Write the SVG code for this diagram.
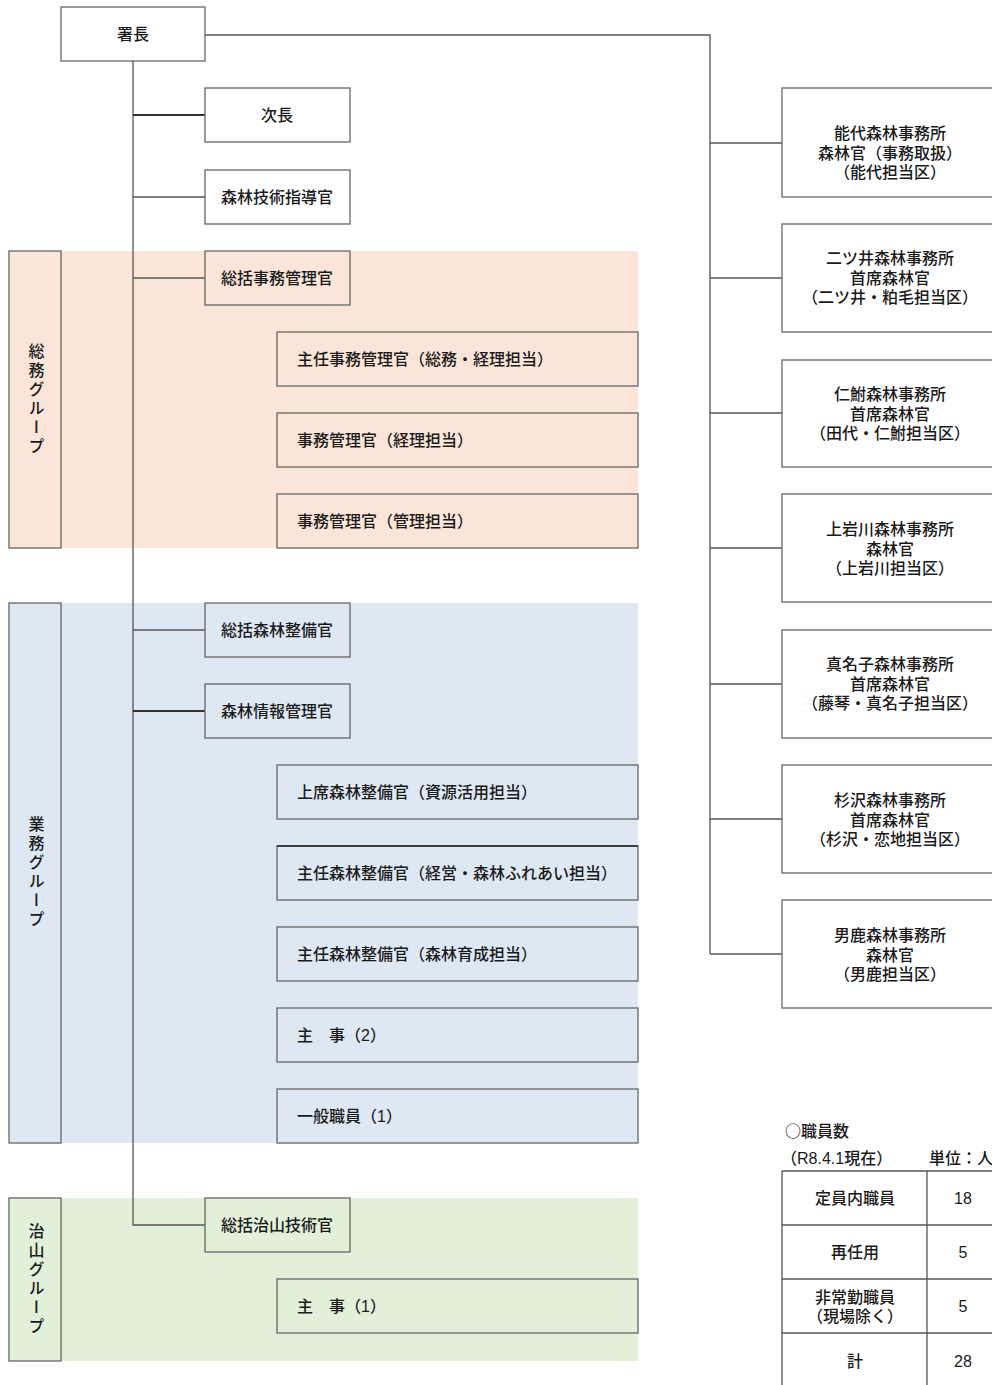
<svg xmlns="http://www.w3.org/2000/svg" width="992" height="1385" viewBox="0 0 992 1385">
<style>
text{font-family:"Liberation Sans","Noto Sans CJK JP",sans-serif;font-size:16px;fill:#1a1a1a;font-weight:500;text-spacing-trim:space-all}
.cjk{font-family:"Noto Sans CJK JP",sans-serif}
.box{fill:#fff;stroke:#666;stroke-width:1.3}
.nb{fill:none;stroke:#666;stroke-width:1.3}
.c{text-anchor:middle}
.ln{stroke:#555;stroke-width:1.3;fill:none}
.lnb{stroke:#333;stroke-width:2;fill:none}
.vert{writing-mode:vertical-rl;text-anchor:middle;letter-spacing:3px}
</style>
<g id="group-somu">
<rect x="61" y="251" width="577" height="297" fill="#fbe5d8"/>
<rect x="9" y="251" width="52" height="297" fill="#fbe5d8" stroke="#666" stroke-width="1.3"/>
<text class="vert" x="35" y="400">総務グループ</text>
</g>
<g id="group-gyomu">
<rect x="61" y="603" width="577" height="540" fill="#dde8f3"/>
<rect x="9" y="603" width="52" height="540" fill="#dde8f3" stroke="#666" stroke-width="1.3"/>
<text class="vert" x="35" y="873">業務グループ</text>
</g>
<g id="group-chisan">
<rect x="61" y="1198" width="577" height="163" fill="#e2efd9"/>
<rect x="9" y="1198" width="52" height="163" fill="#e2efd9" stroke="#666" stroke-width="1.3"/>
<text class="vert" x="35" y="1280">治山グループ</text>
</g>
<g id="connectors">
<path class="ln" d="M133 61V1225H205"/>
<path class="ln" d="M205 35H710V954"/>
<path class="lnb" d="M133 115H205"/>
<path class="ln" d="M133 197H205"/>
<path class="ln" d="M133 278H205"/>
<path class="ln" d="M133 630H205"/>
<path class="lnb" d="M133 711H205"/>
<path class="ln" d="M710 143H782M710 278H782M710 413H782M710 548H782M710 684H782M710 819H782M710 954H782"/>
</g>
<g id="n-shocho"><rect class="box" x="61" y="7" width="144" height="54"/><text class="c" x="133" y="40">署長</text></g>
<g id="n-jicho"><rect class="box" x="205" y="88" width="145" height="54"/><text class="c" x="277" y="121">次長</text></g>
<g id="n-gijutsu"><rect class="box" x="205" y="170" width="145" height="54"/><text class="c" x="277" y="203">森林技術指導官</text></g>
<g id="n-somu1"><rect class="nb" x="205" y="251" width="145" height="54"/><text class="c" x="277" y="284">総括事務管理官</text></g>
<g id="n-somu2"><rect class="nb" x="277" y="332" width="361" height="54"/><text x="297" y="365">主任事務管理官（総務・経理担当）</text></g>
<g id="n-somu3"><rect class="nb" x="277" y="413" width="361" height="54"/><text x="297" y="446">事務管理官（経理担当）</text></g>
<g id="n-somu4"><rect class="nb" x="277" y="494" width="361" height="54"/><text x="297" y="527">事務管理官（管理担当）</text></g>
<g id="n-gyomu1"><rect class="nb" x="205" y="603" width="145" height="54"/><text class="c" x="277" y="636">総括森林整備官</text></g>
<g id="n-gyomu2"><rect class="nb" x="205" y="684" width="145" height="54"/><text class="c" x="277" y="717">森林情報管理官</text></g>
<g id="n-gyomu3"><rect class="nb" x="277" y="765" width="361" height="54"/><text x="297" y="798">上席森林整備官（資源活用担当）</text></g>
<g id="n-gyomu4"><rect class="nb" x="277" y="846" width="361" height="54"/><path d="M277 846H638" stroke="#222" stroke-width="1.6"/><text x="297" y="879">主任森林整備官（経営・森林ふれあい担当）</text></g>
<g id="n-gyomu5"><rect class="nb" x="277" y="927" width="361" height="54"/><text x="297" y="960">主任森林整備官（森林育成担当）</text></g>
<g id="n-gyomu6"><rect class="nb" x="277" y="1008" width="361" height="54"/><text x="297" y="1041">主　事（2）</text></g>
<g id="n-gyomu7"><rect class="nb" x="277" y="1089" width="361" height="54"/><text x="297" y="1122">一般職員（1）</text></g>
<g id="n-chisan1"><rect class="nb" x="205" y="1198" width="145" height="54"/><text class="c" x="277" y="1231">総括治山技術官</text></g>
<g id="n-chisan2"><rect class="nb" x="277" y="1279" width="361" height="54"/><text x="297" y="1312">主　事（1）</text></g>
<g id="n-noshiro"><rect class="box" x="782" y="88" width="218" height="109"/><text class="c" x="890" y="139">能代森林事務所<tspan x="890" dy="19.5">森林官（事務取扱）</tspan><tspan x="890" dy="19.5">（能代担当区）</tspan></text></g>
<g id="n-futatsui"><rect class="box" x="782" y="224" width="218" height="108"/><text class="c" x="890" y="264">二ツ井森林事務所<tspan x="890" dy="19.5">首席森林官</tspan><tspan x="890" dy="19.5">（二ツ井・粕毛担当区）</tspan></text></g>
<g id="n-nibuna"><rect class="box" x="782" y="360" width="218" height="107"/><text class="c" x="890" y="400">仁鮒森林事務所<tspan x="890" dy="19.5">首席森林官</tspan><tspan x="890" dy="19.5">（田代・仁鮒担当区）</tspan></text></g>
<g id="n-kamiiwakawa"><rect class="box" x="782" y="494" width="218" height="108"/><text class="c" x="890" y="535">上岩川森林事務所<tspan x="890" dy="19.5">森林官</tspan><tspan x="890" dy="19.5">（上岩川担当区）</tspan></text></g>
<g id="n-managoshi"><rect class="box" x="782" y="630" width="218" height="108"/><text class="c" x="890" y="670">真名子森林事務所<tspan x="890" dy="19.5">首席森林官</tspan><tspan x="890" dy="19.5">（藤琴・真名子担当区）</tspan></text></g>
<g id="n-sugisawa"><rect class="box" x="782" y="765" width="218" height="108"/><text class="c" x="890" y="806">杉沢森林事務所<tspan x="890" dy="19.5">首席森林官</tspan><tspan x="890" dy="19.5">（杉沢・恋地担当区）</tspan></text></g>
<g id="n-oga"><rect class="box" x="782" y="900" width="218" height="108"/><text class="c" x="890" y="941">男鹿森林事務所<tspan x="890" dy="19.5">森林官</tspan><tspan x="890" dy="19.5">（男鹿担当区）</tspan></text></g>
<g id="staff-table">
<text class="cjk" x="785" y="1137">○職員数</text>
<text x="781" y="1164">（R8.4.1現在）</text>
<text x="929" y="1164">単位：人</text>
<path class="ln" d="M782 1171H1000M782 1225H1000M782 1279H1000M782 1333H1000M782 1171V1385M927 1171V1385"/>
<text class="c" x="855" y="1204">定員内職員</text><text class="c" x="963" y="1204">18</text>
<text class="c" x="855" y="1258">再任用</text><text class="c" x="963" y="1258">5</text>
<text class="c" x="855" y="1303">非常勤職員<tspan x="855" dy="19">（現場除く）</tspan></text><text class="c" x="963" y="1312">5</text>
<text class="c" x="855" y="1367">計</text><text class="c" x="963" y="1367">28</text>
</g>
</svg>
